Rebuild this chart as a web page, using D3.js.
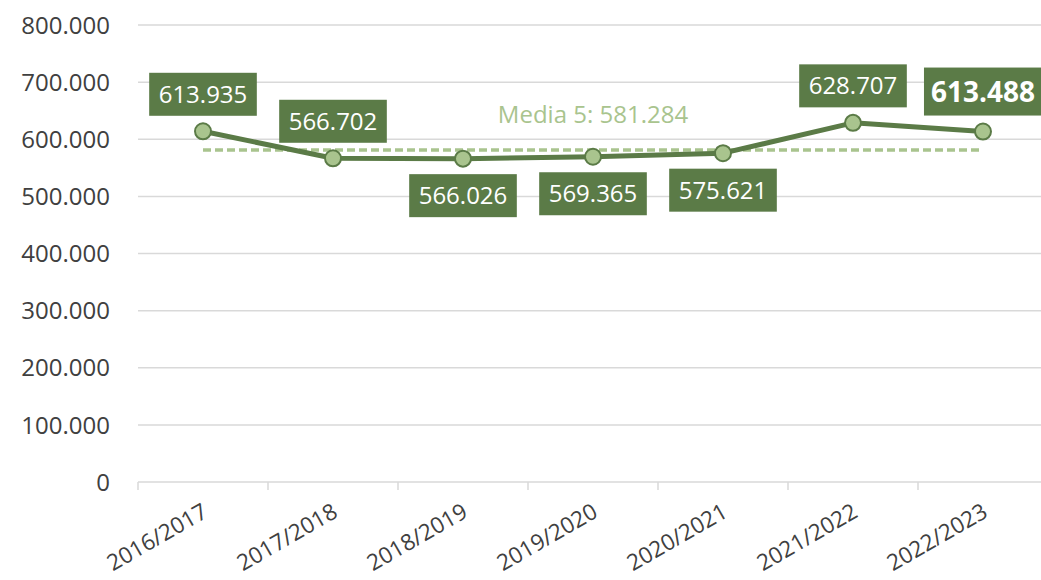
<!DOCTYPE html>
<html>
<head>
<meta charset="utf-8">
<script src="https://cdn.jsdelivr.net/npm/d3@7"></script>
<style>
  html, body { margin: 0; padding: 0; background: #ffffff; }
  svg { display: block; }
</style>
</head>
<body>
<svg id="chart" width="1041" height="580"></svg>
<script>
// ---- data ----
const categories = ["2016/2017", "2017/2018", "2018/2019", "2019/2020", "2020/2021", "2021/2022", "2022/2023"];
const values = [613935, 566702, 566026, 569365, 575621, 628707, 613488];
const averageValue = 581284;
const averageLabel = "Media 5: 581.284";
const yTicks = [0, 100000, 200000, 300000, 400000, 500000, 600000, 700000, 800000];

// ---- style / layout ----
const labelSide = ["above", "above", "below", "below", "below", "above", "above"];
const darkGreen = "#5b7b47";
const lightGreen = "#a9c48e";
const textGray = "#404040";
const gridColor = "#d9d9d9";
const font = "'Open Sans', 'DejaVu Sans', sans-serif";

const svg = d3.select("#chart");
const plotLeft = 138, plotRight = 1048, plotTop = 25, plotBottom = 482;

const x = d3.scaleBand().domain(categories).range([plotLeft, plotRight]).padding(0);
const y = d3.scaleLinear().domain([0, 800000]).range([plotBottom, plotTop]);
const cx = c => x(c) + x.bandwidth() / 2;
const fmt = v => d3.format(",")(v).replace(/,/g, ".");

// gridlines
svg.append("g").selectAll("line").data(yTicks).join("line")
  .attr("x1", plotLeft).attr("x2", 1041)
  .attr("y1", d => y(d)).attr("y2", d => y(d))
  .attr("stroke", gridColor).attr("stroke-width", 1.5);

// y axis labels
svg.append("g").selectAll("text").data(yTicks).join("text")
  .attr("x", 110).attr("y", d => y(d)).attr("dy", "0.36em")
  .attr("text-anchor", "end")
  .attr("font-family", font).attr("font-size", 24).attr("fill", textGray)
  .text(d => fmt(d));

// x axis ticks at category boundaries
const boundaries = categories.map(c => x(c)).concat([x(categories[categories.length - 1]) + x.bandwidth()]);
svg.append("g").selectAll("line").data(boundaries).join("line")
  .attr("x1", d => d).attr("x2", d => d)
  .attr("y1", plotBottom).attr("y2", plotBottom + 8)
  .attr("stroke", gridColor).attr("stroke-width", 1.5);

// x axis labels rotated
svg.append("g").selectAll("text").data(categories).join("text")
  .attr("transform", d => `translate(${cx(d) + 2},${plotBottom + 27}) rotate(-30)`)
  .attr("dy", "0.36em")
  .attr("text-anchor", "end")
  .attr("font-family", font).attr("font-size", 22.5).attr("fill", textGray)
  .text(d => d);

// average dashed line
svg.append("line")
  .attr("x1", cx(categories[0])).attr("x2", cx(categories[categories.length - 1]))
  .attr("y1", y(averageValue)).attr("y2", y(averageValue))
  .attr("stroke", lightGreen).attr("stroke-width", 3.5)
  .attr("stroke-dasharray", "8 4");

svg.append("text")
  .attr("x", cx(categories[3])).attr("y", 123)
  .attr("text-anchor", "middle")
  .attr("font-family", font).attr("font-size", 24).attr("fill", lightGreen)
  .text(averageLabel);

// line
const pts = categories.map((c, i) => ({ c, v: values[i], i }));
svg.append("path")
  .datum(pts)
  .attr("d", d3.line().x(d => cx(d.c)).y(d => y(d.v)))
  .attr("fill", "none").attr("stroke", darkGreen).attr("stroke-width", 5)
  .attr("stroke-linejoin", "round");

// markers
svg.append("g").selectAll("circle").data(pts).join("circle")
  .attr("cx", d => cx(d.c)).attr("cy", d => y(d.v)).attr("r", 8)
  .attr("fill", lightGreen).attr("stroke", darkGreen).attr("stroke-width", 2);

// data labels
const lg = svg.append("g");
pts.forEach(d => {
  const last = d.i === pts.length - 1;
  const g = lg.append("g");
  const fs = last ? 28 : 24;
  const h = last ? 48 : 43;
  const off = last ? 40 : 37;
  const pad = last ? 7 : 9.5;
  const cyc = labelSide[d.i] === "above" ? y(d.v) - off : y(d.v) + off;
  const rect = g.append("rect").attr("fill", darkGreen);
  const t = g.append("text")
    .attr("x", cx(d.c)).attr("y", cyc).attr("dy", "0.36em")
    .attr("text-anchor", "middle")
    .attr("font-family", font).attr("font-size", fs)
    .attr("font-weight", last ? "bold" : "normal")
    .attr("fill", "#ffffff")
    .text(fmt(d.v));
  const w = t.node().getComputedTextLength() + pad * 2;
  rect.attr("x", cx(d.c) - w / 2).attr("y", cyc - h / 2).attr("width", w).attr("height", h);
});
</script>
</body>
</html>
